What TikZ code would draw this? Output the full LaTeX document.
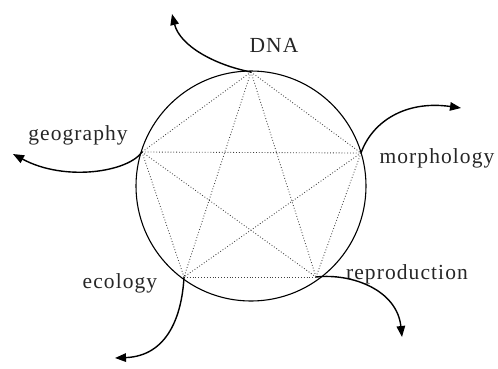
\documentclass[tikz,border=0pt]{standalone}
\usepackage{fontspec}
\setmainfont{Liberation Serif}[LetterSpace=5]
\usetikzlibrary{arrows.meta}
\begin{document}
\begin{tikzpicture}[x=1pt,y=-1pt,
  lbl/.style={font=\fontsize{21.5}{24}\selectfont, anchor=base, inner sep=0pt, text=black!85},
  edge/.style={dotted, draw=black!75, line width=0.85pt},
  flow/.style={line width=1.4pt, -{Triangle[length=11pt,width=8.5pt]}}]
\useasboundingbox (0,0) rectangle (498,368);
\node[circle, draw, line width=1.1pt, minimum size=230pt, inner sep=0pt] (c) at (251,186) {};
\coordinate (dna) at (251,72);
\coordinate (geo) at (142,152);
\coordinate (mor) at (361,153);
\coordinate (eco) at (184,277);
\coordinate (rep) at (316,277);
\foreach \a/\b in {dna/geo,dna/mor,dna/eco,dna/rep,geo/mor,geo/eco,geo/rep,mor/eco,mor/rep,eco/rep}
  \draw[edge] (\a) -- (\b);
\node[lbl] (tdna) at (274,52) {DNA};
\node[lbl] (tgeo) at (78,140) {geography};
\node[lbl] (tmor) at (437,163) {morphology};
\node[lbl] (trep) at (407,279) {reproduction};
\node[lbl] (teco) at (120,288) {ecology};
\coordinate (edna) at (172,14);
\coordinate (egeo) at (13,154);
\coordinate (emor) at (461,108);
\coordinate (eeco) at (115,358);
\coordinate (erep) at (402,337);
\draw[flow] (dna) .. controls (215,65) and (180,46) .. (edna);
\draw[flow] (mor) .. controls (372,122) and (405,100) .. (emor);
\draw[flow] (geo) .. controls (128,172) and (65,182) .. (egeo);
\draw[flow] (eco) .. controls (182,315) and (168,356) .. (eeco);
\draw[flow] (rep) .. controls (352,273) and (397,290) .. (erep);
\end{tikzpicture}
\end{document}
